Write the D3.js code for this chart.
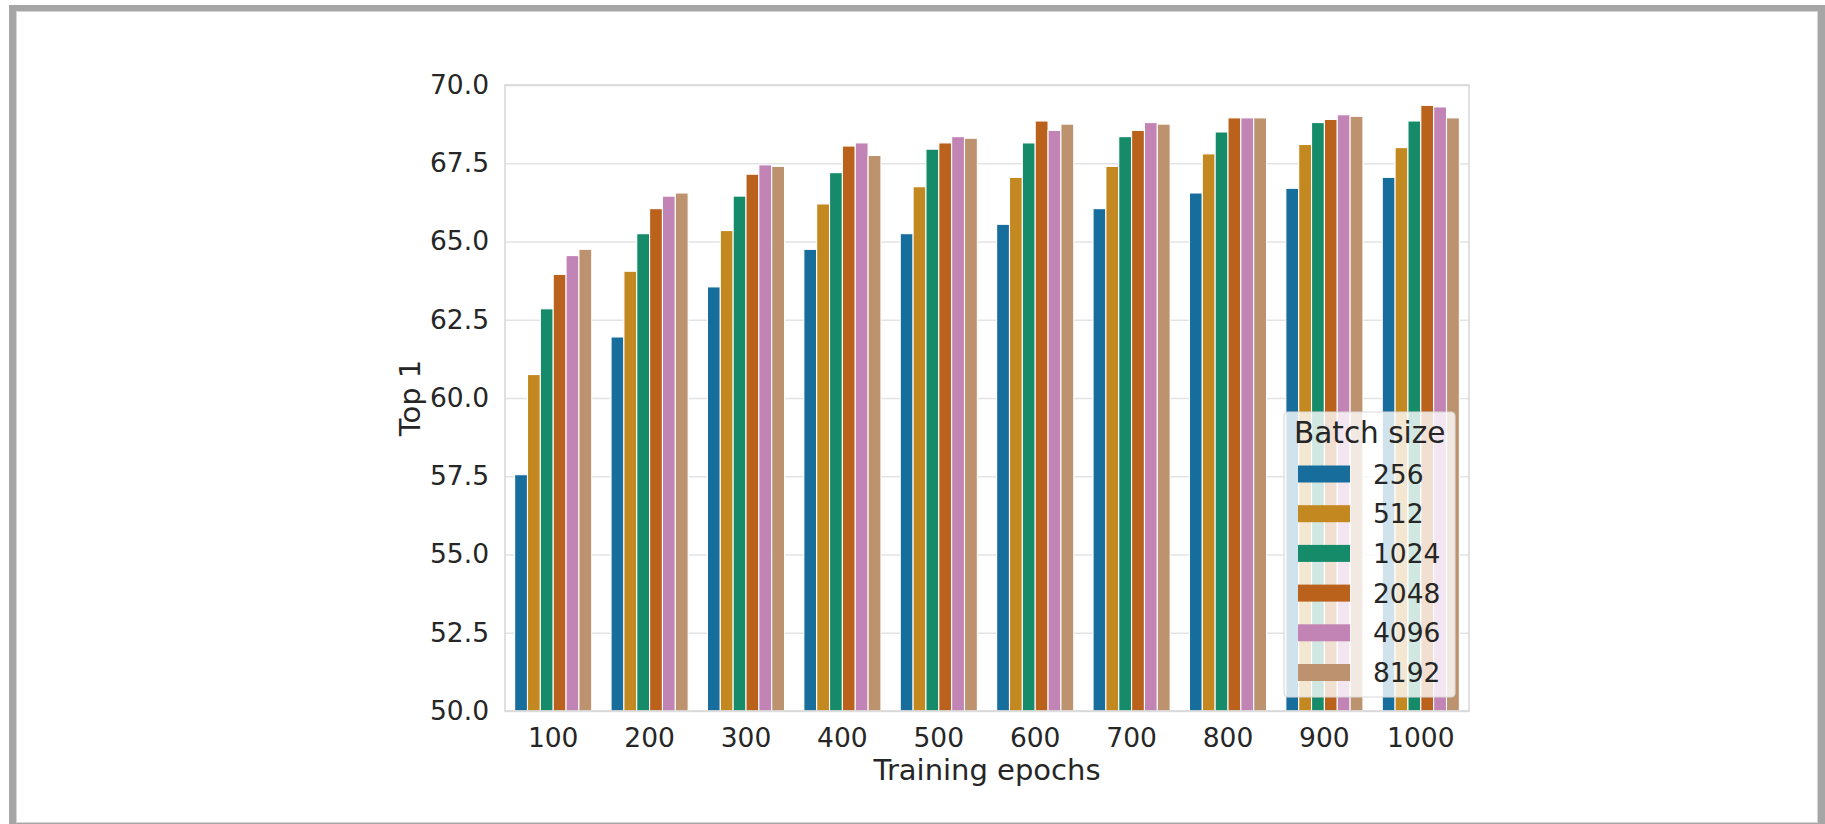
<!DOCTYPE html>
<html>
<head>
<meta charset="utf-8">
<script src="https://cdn.jsdelivr.net/npm/d3@7"></script>
<style>
  html, body { margin: 0; padding: 0; background: #fff; }
  svg { display: block; font-family: "DejaVu Sans", sans-serif; }
</style>
</head>
<body>
<div id="app"></div>
<script>
// data
var epochs = ["100", "200", "300", "400", "500", "600", "700", "800", "900", "1000"];
var batchSizes = ["256", "512", "1024", "2048", "4096", "8192"];
var top1_256  = [57.55, 61.95, 63.55, 64.75, 65.25, 65.55, 66.05, 66.55, 66.7, 67.05];
var top1_512  = [60.75, 64.05, 65.35, 66.2, 66.75, 67.05, 67.4, 67.8, 68.1, 68.0];
var top1_1024 = [62.85, 65.25, 66.45, 67.2, 67.95, 68.15, 68.35, 68.5, 68.8, 68.85];
var top1_2048 = [63.95, 66.05, 67.15, 68.05, 68.15, 68.85, 68.55, 68.95, 68.9, 69.35];
var top1_4096 = [64.55, 66.45, 67.45, 68.15, 68.35, 68.55, 68.8, 68.95, 69.05, 69.3];
var top1_8192 = [64.75, 66.55, 67.4, 67.75, 68.3, 68.75, 68.75, 68.95, 69.0, 68.95];
var yTicks = [50.0, 52.5, 55.0, 57.5, 60.0, 62.5, 65.0, 67.5, 70.0];
var colors = ["#176d9c", "#c38820", "#168b6a", "#ba611b", "#c283b5", "#bd926e"];

var series = [top1_256, top1_512, top1_1024, top1_2048, top1_4096, top1_8192];

var svgWidth = 1825, svgHeight = 824;
var margin = { top: 85, left: 505, right: 356, bottom: 113 };
var plotWidth = svgWidth - margin.left - margin.right;
var plotHeight = svgHeight - margin.top - margin.bottom;

var svg = d3.select("#app").append("svg")
    .attr("width", svgWidth)
    .attr("height", svgHeight);

// page frame
svg.append("rect").attr("x", 9).attr("y", 5).attr("width", 1816).attr("height", 819).attr("fill", "#a6a6a6");
svg.append("rect").attr("x", 16).attr("y", 11).attr("width", 1802).attr("height", 812).attr("fill", "#d4d4d4");
svg.append("rect").attr("x", 17).attr("y", 12).attr("width", 1800).attr("height", 810).attr("fill", "#fff");

var g = svg.append("g").attr("transform", "translate(" + margin.left + "," + margin.top + ")");

var x = d3.scaleBand().domain(epochs).range([0, plotWidth]);
var xSub = d3.scaleBand().domain(batchSizes).range([0, x.bandwidth() * 0.8]);
var y = d3.scaleLinear().domain([50, 70]).range([plotHeight, 0]);

// grid
var grid = g.append("g").call(d3.axisLeft(y).tickValues(yTicks).tickSize(-plotWidth).tickFormat(""));
grid.select(".domain").remove();
grid.selectAll("line").attr("stroke", "#e3e3e3").attr("stroke-width", 1.4);

// bars
var rows = [];
epochs.forEach(function(e, i) {
    batchSizes.forEach(function(b, j) {
        rows.push({ epoch: e, batch: b, value: series[j][i], c: colors[j] });
    });
});
g.append("g").selectAll("rect")
    .data(rows)
    .enter().append("rect")
    .attr("x", function(d) { return x(d.epoch) + x.bandwidth() * 0.1 + xSub(d.batch); })
    .attr("y", function(d) { return y(d.value); })
    .attr("width", xSub.bandwidth())
    .attr("height", function(d) { return plotHeight - y(d.value); })
    .attr("fill", function(d) { return d.c; })
    .attr("stroke", "#fff")
    .attr("stroke-width", 1.1);

// frame of the axes
g.append("rect").attr("width", plotWidth).attr("height", plotHeight)
    .attr("fill", "none").attr("stroke", "#d6d6d6").attr("stroke-width", 1.5);

// y axis
var yAxis = g.append("g").call(d3.axisLeft(y).tickValues(yTicks).tickSize(0).tickPadding(16).tickFormat(d3.format(".1f")));
yAxis.select(".domain").remove();
yAxis.selectAll("text").attr("font-size", 26.5).attr("fill", "#262626").attr("font-family", "DejaVu Sans");

// x axis
var xAxis = g.append("g").attr("transform", "translate(0," + plotHeight + ")")
    .call(d3.axisBottom(x).tickSize(0).tickPadding(17));
xAxis.select(".domain").remove();
xAxis.selectAll("text").attr("font-size", 26.5).attr("fill", "#262626").attr("font-family", "DejaVu Sans");

// axis labels
svg.append("text")
    .attr("x", margin.left + plotWidth / 2).attr("y", 780)
    .attr("text-anchor", "middle").attr("font-size", 29).attr("fill", "#262626")
    .text("Training epochs");
svg.append("text")
    .attr("transform", "translate(420," + (margin.top + plotHeight / 2) + ") rotate(-90)")
    .attr("text-anchor", "middle").attr("font-size", 29).attr("fill", "#262626")
    .text("Top 1");

// legend
var legend = svg.append("g").attr("transform", "translate(1284,412)");
legend.append("rect").attr("width", 171).attr("height", 285).attr("rx", 4)
    .attr("fill", "#fff").attr("fill-opacity", 0.8)
    .attr("stroke", "#d9d9d9").attr("stroke-width", 1.2);
legend.append("text").attr("x", 10).attr("y", 31)
    .attr("font-size", 29.5).attr("fill", "#262626").text("Batch size");
var item = legend.selectAll(".item").data(batchSizes).enter().append("g")
    .attr("transform", function(d, i) { return "translate(0," + (62 + i * 39.7) + ")"; });
item.append("rect").attr("x", 14).attr("y", -8.5).attr("width", 52).attr("height", 17)
    .attr("fill", function(d, i) { return colors[i]; });
item.append("text").attr("x", 89).attr("y", 9.5)
    .attr("font-size", 26.5).attr("fill", "#262626").text(function(d) { return d; });
</script>
</body>
</html>
